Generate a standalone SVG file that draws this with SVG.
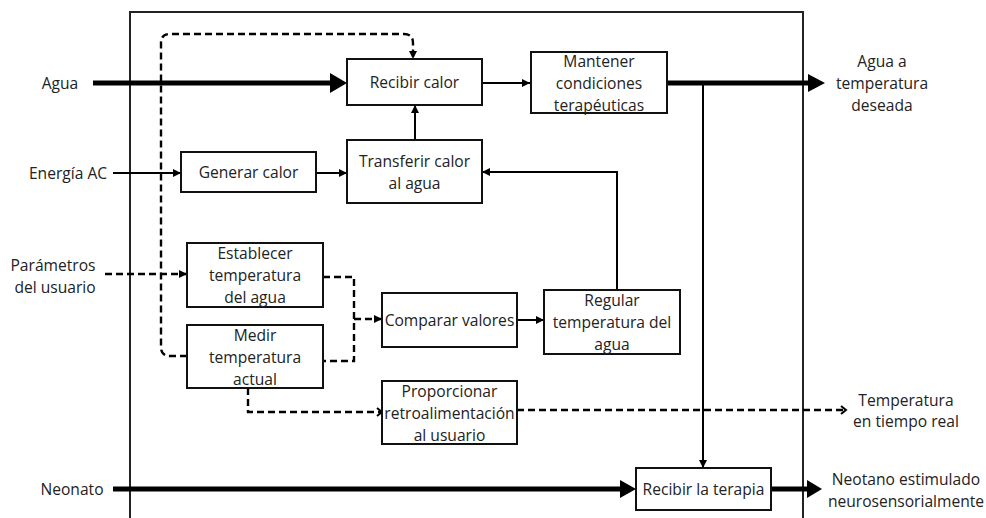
<svg xmlns="http://www.w3.org/2000/svg" width="986" height="518" viewBox="0 0 986 518">
<defs>
<style>
.box{fill:#fff;stroke:#111;stroke-width:2}
.t{font-family:"Open Sans","Liberation Sans",sans-serif;font-size:15.6px;fill:#222;text-anchor:middle;dominant-baseline:central}
.thin{fill:none;stroke:#000;stroke-width:2}
.dash{fill:none;stroke:#000;stroke-width:2.4;stroke-dasharray:7 4}
.thick{fill:none;stroke:#000;stroke-width:5}
.frame{fill:none;stroke:#222;stroke-width:2}
</style>
<marker id="a" markerUnits="userSpaceOnUse" markerWidth="10" markerHeight="10" viewBox="0 0 10 10" refX="9" refY="5" orient="auto">
<path d="M1,1 L9,5 L1,9 Z" fill="#000"/>
</marker>
<marker id="o" markerUnits="userSpaceOnUse" markerWidth="10" markerHeight="12" viewBox="0 0 10 12" refX="8" refY="6" orient="auto">
<path d="M3,2 L8,6 L3,10" fill="none" stroke="#000" stroke-width="2"/>
</marker>
</defs>
<path class="frame" d="M130,518 V12 H803 V518"/>
<g id="connectors">
<path class="thick" d="M93,83 H332"/>
<polygon points="330,73 347,83 330,93" fill="#000"/>
<path class="thick" d="M667,83 H810"/>
<polygon points="808,74 825,83 808,92" fill="#000"/>
<path class="thick" d="M113,489 H622"/>
<polygon points="620,480 636,489 620,498" fill="#000"/>
<path class="thick" d="M771,489 H809"/>
<polygon points="807,480 822,489 807,498" fill="#000"/>
<path class="thin" d="M482,83 H530" marker-end="url(#a)"/>
<path class="thin" d="M113,173 H181" marker-end="url(#a)"/>
<path class="thin" d="M316,173 H347" marker-end="url(#a)"/>
<path class="thin" d="M415,140 V105" marker-end="url(#a)"/>
<path class="thin" d="M617,290 V172 H482" marker-end="url(#a)"/>
<path class="thin" d="M703,83 V468" marker-end="url(#a)"/>
<path class="thin" d="M517,320 H544" marker-end="url(#a)"/>
<path class="dash" d="M187,356 H170 Q161,356 161,347 V43 Q161,34 170,34 H404 Q413,34 413,43 V59" marker-end="url(#a)"/>
<path class="dash" d="M105,274 H187" marker-end="url(#a)"/>
<path class="dash" d="M323,277 H354 V361 H323"/>
<path class="dash" d="M354,319 H382" marker-end="url(#a)"/>
<path class="dash" d="M248,388 V412 H382" marker-end="url(#o)"/>
<path class="dash" d="M517,410 H846" marker-end="url(#o)"/>
</g>
<g id="recibir-calor"><rect class="box" x="347" y="59" width="135" height="46"/><text class="t" x="414.5" y="82">Recibir calor</text></g>
<g id="mantener"><rect class="box" x="531" y="52" width="136" height="61"/><text class="t" x="599" y="61">Mantener</text><text class="t" x="599" y="83">condiciones</text><text class="t" x="599" y="105">terapéuticas</text></g>
<g id="generar-calor"><rect class="box" x="181" y="152" width="135" height="40"/><text class="t" x="248.5" y="172">Generar calor</text></g>
<g id="transferir-calor"><rect class="box" x="347" y="140" width="135" height="63"/><text class="t" x="414.5" y="161">Transferir calor</text><text class="t" x="414.5" y="183">al agua</text></g>
<g id="establecer"><rect class="box" x="187" y="243" width="136" height="64"/><text class="t" x="255" y="253">Establecer</text><text class="t" x="255" y="275">temperatura</text><text class="t" x="255" y="297">del agua</text></g>
<g id="medir"><rect class="box" x="187" y="325" width="136" height="63"/><text class="t" x="255" y="335">Medir</text><text class="t" x="255" y="357">temperatura</text><text class="t" x="255" y="379">actual</text></g>
<g id="comparar"><rect class="box" x="382" y="293" width="135" height="54"/><text class="t" x="449.5" y="320">Comparar valores</text></g>
<g id="regular"><rect class="box" x="544" y="290" width="136" height="64"/><text class="t" x="612" y="300">Regular</text><text class="t" x="612" y="322">temperatura del</text><text class="t" x="612" y="344">agua</text></g>
<g id="proporcionar"><rect class="box" x="382" y="381" width="135" height="63"/><text class="t" x="449.5" y="391">Proporcionar</text><text class="t" x="449.5" y="413">retroalimentación</text><text class="t" x="449.5" y="435">al usuario</text></g>
<g id="recibir-terapia"><rect class="box" x="636" y="468" width="135" height="42"/><text class="t" x="703.5" y="489">Recibir la terapia</text></g>
<g id="in-agua"><text class="t" x="60" y="83">Agua</text></g>
<g id="in-energia"><text class="t" x="68" y="173">Energía AC</text></g>
<g id="in-parametros"><text class="t" x="53" y="265">Parámetros</text><text class="t" x="55" y="287">del usuario</text></g>
<g id="in-neonato"><text class="t" x="72" y="489">Neonato</text></g>
<g id="out-agua"><text class="t" x="882" y="61">Agua a</text><text class="t" x="882" y="83">temperatura</text><text class="t" x="882" y="105">deseada</text></g>
<g id="out-temp"><text class="t" x="906" y="400">Temperatura</text><text class="t" x="906" y="421">en tiempo real</text></g>
<g id="out-neonato"><text class="t" x="906" y="479">Neotano estimulado</text><text class="t" x="906" y="501">neurosensorialmente</text></g>
</svg>
